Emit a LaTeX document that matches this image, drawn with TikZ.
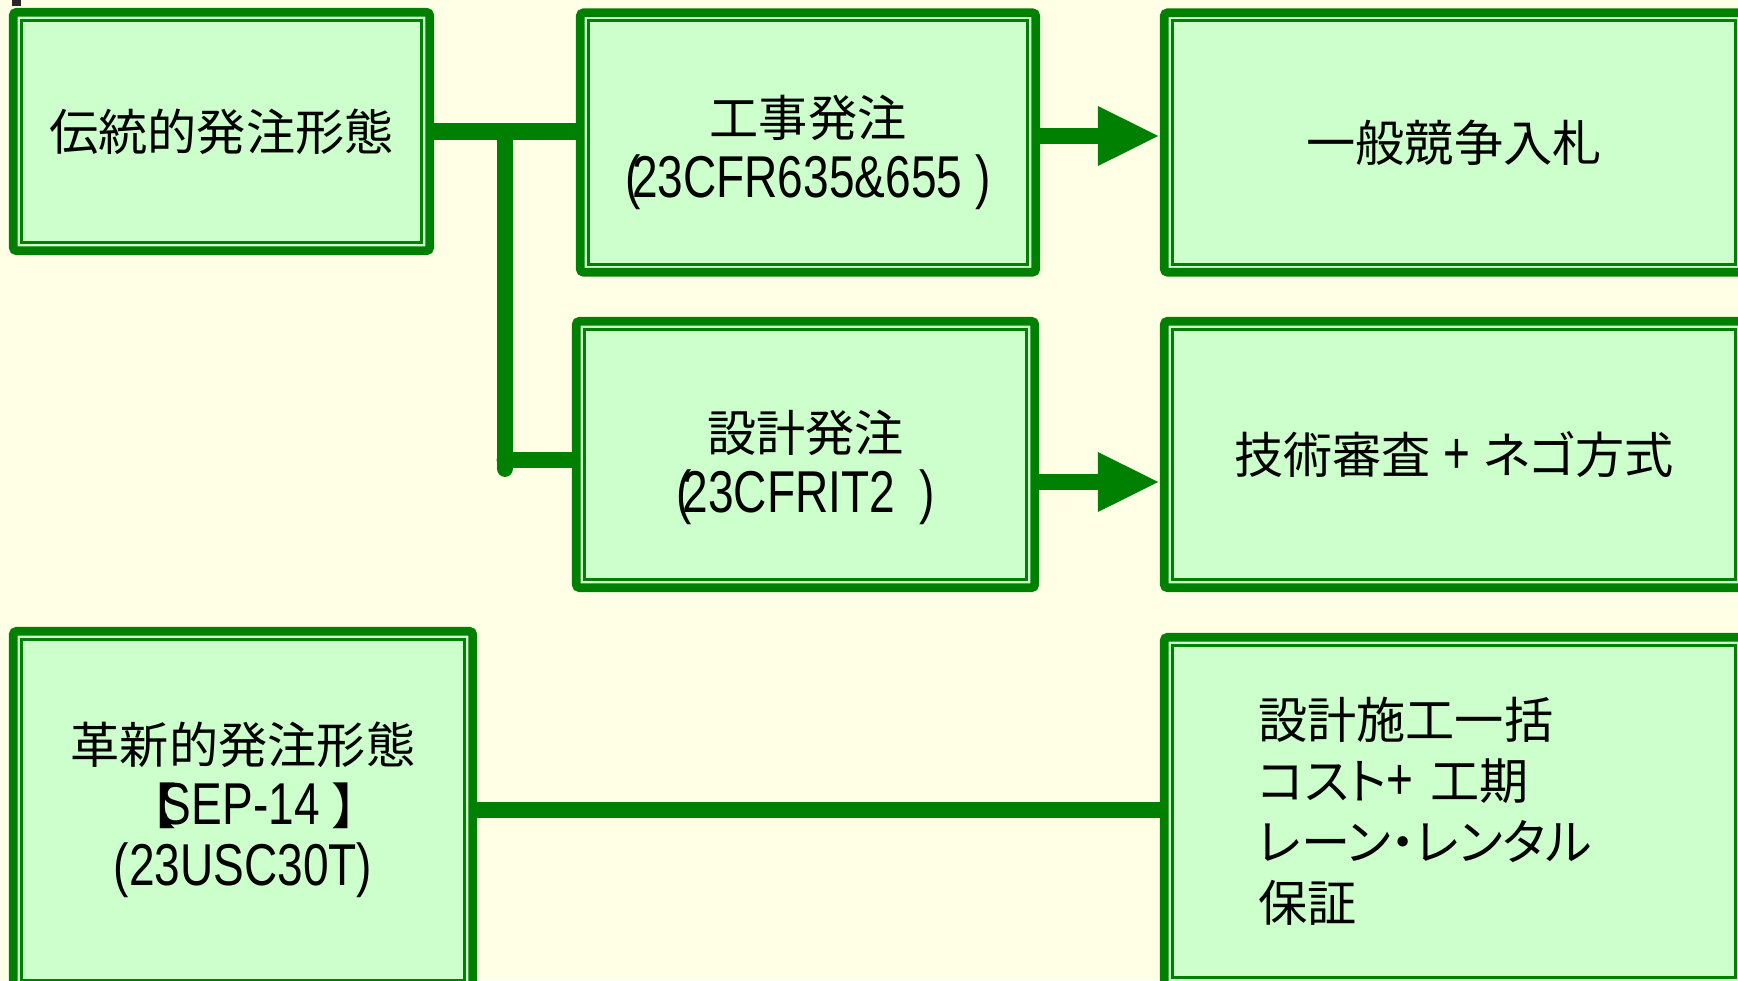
\documentclass[tikz,border=0pt]{standalone}
\usepackage{fontspec}
\setmainfont{Noto Sans CJK JP}[RawFeature={+palt}]
\newfontfamily\latn{Liberation Sans}[FakeStretch=0.78]
\newcommand{\lat}[1]{{\fontsize{16.8}{17.4}\selectfont\latn{}#1}}
\usetikzlibrary{arrows.meta}
\definecolor{bgc}{HTML}{FFFFE5}
\definecolor{grn}{HTML}{008000}
\definecolor{boxfill}{HTML}{CCFFCC}
\tikzset{
  box/.style={draw=grn, line width=2.5pt, fill=boxfill, rounded corners=1pt, inner sep=0pt, align=center,
    font=\fontsize{14}{17.4}\selectfont,
    path picture={\draw[grn, line width=0.9pt, sharp corners]
      ([shift={(2.3pt,-2.3pt)}]path picture bounding box.north west) rectangle
      ([shift={(-2.3pt,2.3pt)}]path picture bounding box.south east);}},
  conn/.style={grn, line width=4.8pt},
  tip/.style={-{Triangle[length=0.62cm,width=0.55cm]}}
}
\begin{document}
\begin{tikzpicture}
  \fill[bgc] (0,0) rectangle (17.38,9.80);
  \useasboundingbox (0,0) rectangle (17.38,9.80);
  \fill[black!85] (0.12,9.80) rectangle (0.21,9.74);
  % boxes
  \node[box, minimum width=4.165cm, minimum height=2.385cm] (trad) at (2.215,8.485) {伝統的発注形態};
  \node[box, minimum width=4.555cm, minimum height=2.595cm, text height=35pt] (works) at (8.08,8.375)
    {工事発注\\\lat{(\kern-.15em23CFR635\&655 )}};
  \node[box, minimum width=5.795cm, minimum height=2.595cm] (bidding) at (14.54,8.375) {一般競争入札};
  \node[box, minimum width=4.585cm, minimum height=2.665cm, text height=36.3pt] (design) at (8.055,5.255)
    {設計発注\\\lat{(\kern-.15em23CFRIT2\hspace{.2em} )}};
  \node[box, minimum width=5.795cm, minimum height=2.665cm] (review) at (14.54,5.255) {技術審査\lat{ + }ネゴ方式};
  \node[box, minimum width=4.595cm, minimum height=3.575cm] (innov) at (2.43,1.70)
    {革新的発注形態\\\hspace{6.3pt}【\kern-.3em\lat{SEP-14 }】\\\lat{(23USC30T)}};
  \node[box, minimum width=5.795cm, minimum height=3.485cm, text width=3.92cm, align=left] (dbid) at (14.54,1.685)
    {設計施工一括\\コスト\lat{+ }工期\\レーン・レンタル\\保証};
  % connectors
  \coordinate (split) at (5.05,8.485);
  \draw[conn] (trad.east) -- (trad.east -| works.west);
  \draw[conn, line cap=round] (split) -- ([yshift=-0.14cm]split |- design.west);
  \draw[conn, line cap=round] ([yshift=-0.055cm]split |- design.west) -- ([yshift=-0.055cm]design.west);
  \draw[conn, tip] ([yshift=0.065cm]works.east) -- ([yshift=0.065cm]bidding.west);
  \draw[conn, tip] ([yshift=-0.275cm]design.east) -- ([yshift=-0.275cm]review.west);
  \draw[conn] (innov.east) -- (innov.east -| dbid.west);
\end{tikzpicture}
\end{document}
